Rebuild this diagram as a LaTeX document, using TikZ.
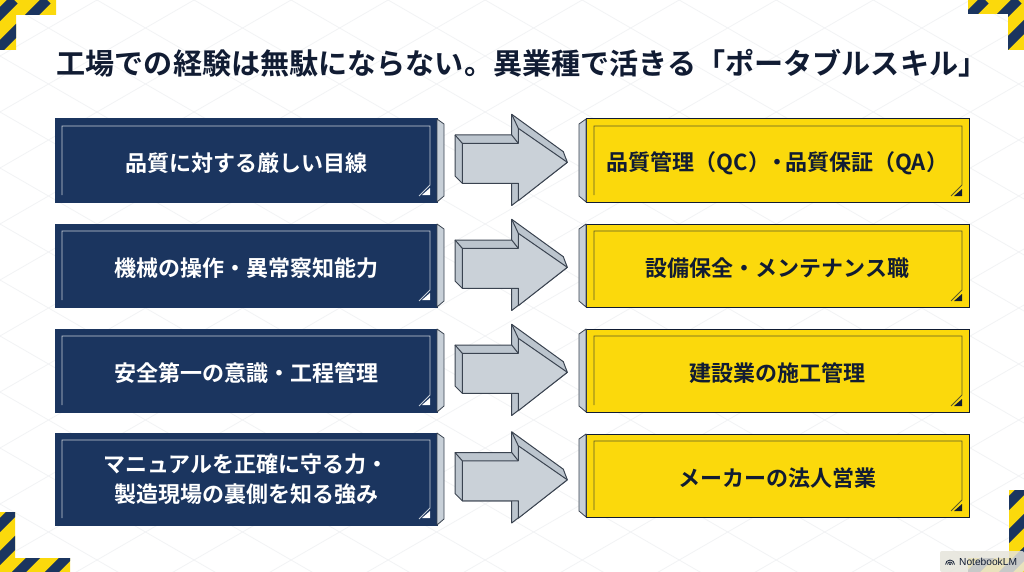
\documentclass[tikz,border=0pt]{standalone}
\usepackage{fontspec}
\newfontfamily\jp{Noto Sans CJK JP}[BoldFont={Noto Sans CJK JP Bold}]
\setsansfont{Liberation Sans}
\usetikzlibrary{calc}
\definecolor{navy}{HTML}{1B355F}
\definecolor{hazard}{HTML}{FBD90C}
\definecolor{ink}{HTML}{111C33}
\definecolor{sidegrey}{HTML}{C8D0D8}
\definecolor{arrowgrey}{HTML}{CAD1D8}
\definecolor{arrowside}{HTML}{BCC5CE}
\definecolor{edge}{HTML}{3A4350}
\definecolor{olive}{HTML}{5C5A2A}
\definecolor{gridline}{HTML}{F2F3F5}
\definecolor{wmfill}{HTML}{E6E4DB}
\tikzset{
  x=1pt,y=-1pt,
  boxtext/.style={inner sep=0pt,outer sep=0pt,anchor=north west,align=center,font=\jp\bfseries\fontsize{22}{30}\selectfont,execute at begin node={\rule{0pt}{24pt}}},
  navybox/.style={boxtext,draw=navy,line width=1pt,fill=navy,text=white,minimum width=382pt},
  yelbox/.style={boxtext,draw=ink,line width=1pt,fill=hazard,text=ink,minimum width=383pt},
  sideface/.style={draw=edge,line width=0.8pt,fill=sidegrey,line join=round},
  arrowback/.style={draw=edge,line width=1pt,fill=arrowside,line join=round},
  arrowfront/.style={draw=edge,line width=1pt,fill=arrowgrey,line join=round},
}
% a block arrow placed from a left node's east anchor
\newcommand{\blockarrow}[2]{%
  \begin{scope}[shift={($(#1.east)+(0,#2)$)}]
    \path[arrowback] (18,-25.5) -- (74.7,-25.5) -- (74.7,-46.2) -- (126.3,-8.8) -- (130.3,1.8) -- (74.7,45) -- (74.7,22.8) -- (25.3,22.8) -- (18,15.5) -- cycle;
    \path[arrowfront] (25.3,-17.2) -- (81.3,-17.2) -- (81.3,-32.2) -- (130.3,1.8) -- (81.3,40.2) -- (81.3,22.8) -- (25.3,22.8) -- cycle;
    \draw[edge,line width=1pt] (18,-25.5) -- (25.3,-17.2) (74.7,-25.5) -- (81.3,-17.2) (74.7,-46.2) -- (81.3,-32.2);
  \end{scope}}
\newcommand{\leftdetail}[1]{%
  \path[sideface] (#1.north east) -- ++(7,5) -- ($(#1.south east)+(7,-6)$) -- (#1.south east) -- cycle;
  \draw[sidegrey,line width=0.9pt] ($(#1.south west)+(7,-7)$) -- ($(#1.north west)+(7,7)$) -- ($(#1.north east)+(-7,7)$) -- ($(#1.south east)+(-7,-17)$) -- ($(#1.south east)+(-18,-6)$);
  \fill[white] ($(#1.south east)+(-7,-14)$) -- ($(#1.south east)+(-7,-7)$) -- ($(#1.south east)+(-15,-7)$) -- cycle;}
\newcommand{\rightdetail}[1]{%
  \path[sideface] (#1.north west) -- ++(-7,5) -- ($(#1.south west)+(-7,-6)$) -- (#1.south west) -- cycle;
  \draw[olive,line width=0.9pt] ($(#1.south west)+(8,-7)$) -- ($(#1.north west)+(8,7)$) -- ($(#1.north east)+(-7,7)$) -- ($(#1.south east)+(-7,-17)$) -- ($(#1.south east)+(-18,-6)$);
  \fill[ink] ($(#1.south east)+(-7,-13)$) -- ($(#1.south east)+(-7,-6)$) -- ($(#1.south east)+(-15,-6)$) -- cycle;}
\newcommand{\hazardshape}[2]{%
  \begin{scope}
    \clip #1;
    \fill[hazard] (0,0) rectangle (1024,572);
    \foreach \k in {0,...,50}
      \draw[navy,line width=10pt] ({\k*33+#2},0) -- ({\k*33+#2-620},620);
  \end{scope}}
\begin{document}
\begin{tikzpicture}
\useasboundingbox (0,0) rectangle (1024,572);
\fill[white] (0,0) rectangle (1024,572);
% faint isometric background
\begin{scope}
  \clip (0,0) rectangle (1024,572);
  \foreach \k in {-12,...,24} {
    \draw[gridline,line width=0.8pt] (0,{\k*56}) -- (1024,{\k*56+591});
    \draw[gridline,line width=0.8pt] (0,{\k*56}) -- (1024,{\k*56-591});
  }
\end{scope}
% hazard corners
\hazardshape{(0,0) -- (56,0) -- (56,15) -- (16,15) -- (16,50) -- (0,50) -- cycle}{14}
\hazardshape{(968,0) -- (1024,0) -- (1024,50) -- (1008,50) -- (1008,14) -- (968,14) -- cycle}{28}
\hazardshape{(0,512) -- (15,512) -- (15,558) -- (70,558) -- (70,572) -- (0,572) -- cycle}{30}
\hazardshape{(1009,490) -- (1024,490) -- (1024,572) -- (968,572) -- (968,558) -- (1009,558) -- cycle}{27}
% title
\node[text=ink,font=\jp\bfseries\fontsize{29.1}{34}\selectfont,anchor=center,inner sep=0pt] (title) at (522,63) {工場での経験は無駄にならない。異業種で活きる「ポータブルスキル」};
% boxes
\node[navybox,minimum height=83pt] (l1) at (55,119) {品質に対する厳しい目線};
\node[navybox,minimum height=83pt] (l2) at (55,224) {機械の操作・異常察知能力};
\node[navybox,minimum height=83pt] (l3) at (55,329) {安全第一の意識・工程管理};
\node[navybox,minimum height=92pt] (l4) at (55,433) {マニュアルを正確に守る力・\\製造現場の裏側を知る強み};
\node[yelbox,minimum height=83pt] (r1) at (586,119) {品質管理（QC）\hspace{-3.5pt}・\hspace{-3.5pt}品質保証（QA）};
\node[yelbox,minimum height=83pt] (r2) at (586,224) {設備保全・メンテナンス職};
\node[yelbox,minimum height=83pt] (r3) at (586,329) {建設業の施工管理};
\node[yelbox,minimum height=83pt] (r4) at (586,434) {メーカーの法人営業};
\foreach \n in {l1,l2,l3,l4} {\leftdetail{\n}}
\foreach \n in {r1,r2,r3,r4} {\rightdetail{\n}}
\blockarrow{l1}{0}
\blockarrow{l2}{0}
\blockarrow{l3}{0}
\blockarrow{l4}{-1}
% watermark
\node[fill=wmfill,fill opacity=0.85,text opacity=1,rounded corners=2pt,minimum width=84pt,minimum height=21pt,anchor=south east,inner sep=0pt,outer sep=0pt,font=\sffamily\fontsize{10.2}{12}\selectfont,text=ink,align=right,text width=70pt] (wm) at (1024,572) {NotebookLM};
\draw[ink,line width=0.8pt] ($(wm.west)+(5.5,3)$) arc[start angle=180,end angle=0,radius=4.5pt];
\draw[ink,line width=0.8pt] ($(wm.west)+(7.5,3)$) arc[start angle=180,end angle=0,radius=2.5pt];
\draw[ink,line width=0.8pt] ($(wm.west)+(9.2,3)$) arc[start angle=180,end angle=0,radius=0.8pt];
\end{tikzpicture}
\end{document}
